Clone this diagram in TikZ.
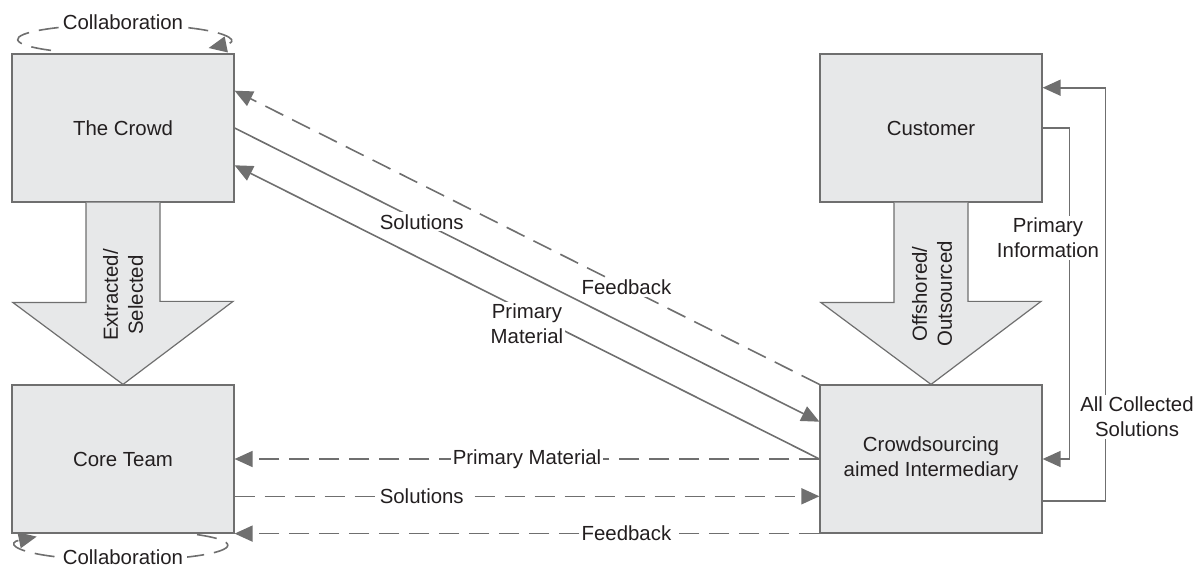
\documentclass[tikz,border=0pt]{standalone}
\usepackage{fontspec}
\setmainfont{Liberation Sans}
\usetikzlibrary{arrows.meta,calc}

\definecolor{linegray}{HTML}{6F6F6F}
\definecolor{boxgray}{HTML}{E7E8E9}
\definecolor{textgray}{HTML}{231F20}

\tikzset{
  box/.style={draw=linegray, fill=boxgray, line width=0.6pt, minimum width=111pt,
    minimum height=74pt, align=center, text=textgray},
  link/.style={draw=linegray, line width=0.8pt, -{Triangle[length=9pt,width=8pt]}},
  dlink/.style={link, dash pattern=on 10pt off 5pt},
  lbl/.style={fill=white, text=textgray, inner sep=1pt, align=center},
  bigarrow/.style={draw=linegray, fill=boxgray, line width=0.6pt},
}

\begin{document}
\begin{tikzpicture}[x=0.5pt,y=0.5pt,font=\fontsize{10.2pt}{12.5pt}\selectfont]
  \useasboundingbox (0,0) rectangle (1202,567);

  % Boxes
  \node[box] (crowd) at (123,439) {The Crowd};
  \node[box] (customer) at (931,439) {Customer};
  \node[box] (core) at (123,108) {Core Team};
  \node[box] (inter) at (931,108) {Crowdsourcing\\aimed Intermediary};

  % Block arrows between the boxes
  \draw[bigarrow] ($(crowd.south)+(-37,0)$) -- ++(0,-100) -- ++(-73,0) -- (core.north)
    -- ++(110,83) -- ++(-73,0) -- ($(crowd.south)+(37,0)$);
  \node[rotate=90, align=center, text=textgray] (extracted) at (123,272) {Extracted/\\Selected};
  \draw[bigarrow] ($(customer.south)+(-37,0)$) -- ++(0,-100) -- ++(-73,0) -- (inter.north)
    -- ++(110,83) -- ++(-73,0) -- ($(customer.south)+(37,0)$);
  \node[rotate=90, align=center, text=textgray] (offshored) at (932,273) {Offshored/\\Outsourced};

  % Crowd <-> intermediary
  \draw[dlink] (inter.north west) -- node[lbl,pos=0.33] {Feedback}
    ($(crowd.north east)!0.25!(crowd.south east)$);
  \draw[link] (crowd.east) -- node[lbl,pos=0.32] {Solutions}
    ($(inter.north west)!0.25!(inter.south west)$);
  \draw[link] (inter.west) -- node[lbl,pos=0.5,yshift=-6pt] {Primary\\Material}
    ($(crowd.north east)!0.75!(crowd.south east)$);

  % Core team <-> intermediary
  \draw[dlink] (inter.west) -- node[lbl,pos=0.5] {Primary Material} (core.east);
  \draw[dlink] ($(core.north east)!0.75!(core.south east)$) -- node[lbl,pos=0.32] {Solutions}
    ($(inter.north west)!0.75!(inter.south west)$);
  \draw[dlink] (inter.south west) -- node[lbl,pos=0.33] {Feedback} (core.south east);

  % Customer <-> intermediary
  \draw[link] (customer.east) -- ++(27,0) |- (inter.east);
  \node[lbl] (priminfo) at (1048,329) {Primary\\Information};
  \draw[link] ($(inter.north east)!0.78!(inter.south east)$) -- ++(63,0)
    |- ($(customer.north east)!0.23!(customer.south east)$);
  \node[lbl] (allsol) at (1137,150) {All Collected\\Solutions};

  % Collaboration loops
  \draw[dlink] ($(crowd.north)+(-72,3)$)
    arc[start angle=227, end angle=-35, x radius=52.5pt, y radius=7.5pt];
  \node[lbl, inner sep=2pt] (collabtop) at (123,545) {Collaboration};
  \draw[dlink] ($(core.south)+(74,-1)$)
    arc[start angle=45, end angle=-215, x radius=52.5pt, y radius=7.5pt];
  \node[lbl, inner sep=2pt] (collabbot) at (123,10) {Collaboration};
\end{tikzpicture}
\end{document}
